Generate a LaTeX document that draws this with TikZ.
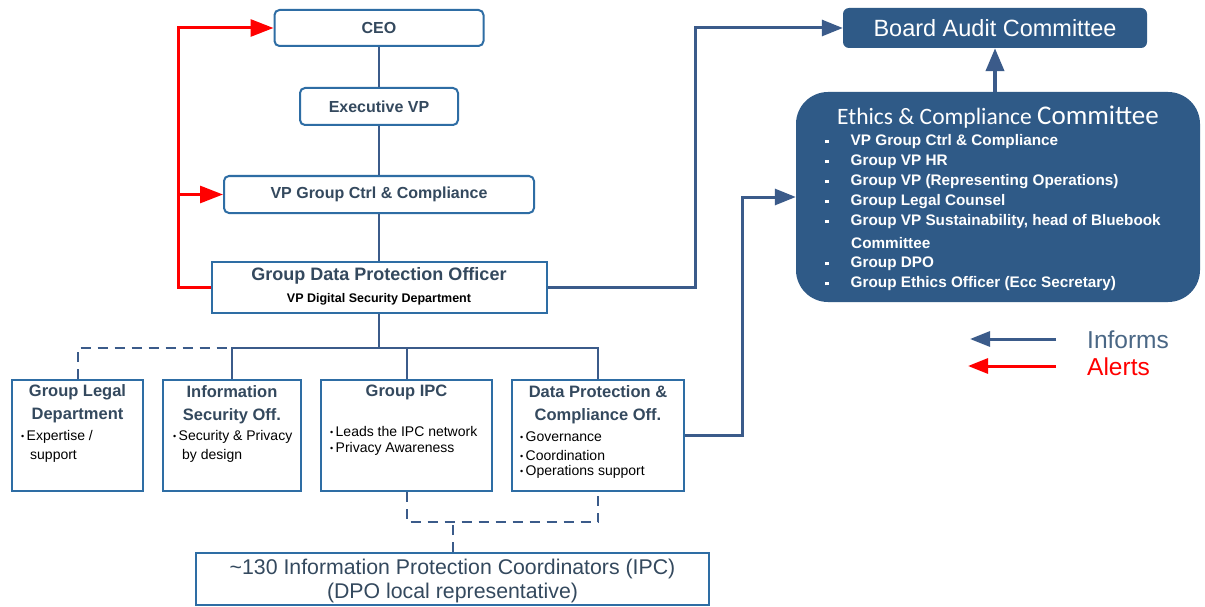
\documentclass[tikz,border=0pt]{standalone}
\usepackage{fontspec}
\setmainfont{Liberation Sans}
\newfontfamily\carl{Carlito}
\usetikzlibrary{arrows.meta}
\definecolor{boxline}{HTML}{2E6DA4}
\definecolor{conn}{HTML}{3B5B8A}
\definecolor{txt}{HTML}{34495E}
\definecolor{fillb}{HTML}{2F5A87}
\definecolor{alertred}{HTML}{FF0000}
\definecolor{legtxt}{HTML}{4A6785}
\newcommand{\sqb}{\raisebox{2.5pt}{\rule{3.5pt}{3.5pt}}}
\newcommand{\dotb}{{\fontsize{9}{9}\selectfont\raisebox{1pt}{\textbullet}}}
\tikzset{
  rbox/.style={draw=boxline, line width=2pt, rounded corners=5pt, fill=white,
    text=txt, font=\fontsize{16}{18}\selectfont\bfseries, inner sep=0pt},
  sbox/.style={draw=boxline, line width=2pt, fill=white, inner sep=0pt},
  dark/.style={fill=fillb, draw=none, text=white, inner sep=0pt},
  title/.style={text=txt, font=\fontsize{16.5}{18}\selectfont\bfseries, inner sep=0pt},
  item/.style={text=black, font=\fontsize{14}{16}\selectfont, inner sep=0pt, anchor=west},
  eitem/.style={text=white, font=\fontsize{15.3}{17}\selectfont\bfseries, inner sep=0pt, anchor=west},
  link/.style={draw=conn, line width=2pt},
  dlink/.style={draw=conn, line width=2pt, dash pattern=on 10pt off 7pt},
  inform/.style={draw=conn, line width=3pt, -{Triangle[length=21pt,width=16pt]}},
  alert/.style={draw=alertred, line width=3pt, -{Triangle[length=23pt,width=17pt]}}
}
\begin{document}
\begin{tikzpicture}[x=1pt,y=-1pt]
\useasboundingbox (0,0) rectangle (1205,607);
\fill[white] (0,0) rectangle (1205,607);

% management chain
\node[rbox, minimum width=209pt, minimum height=36pt] (ceo) at (379,28) {CEO};
\node[rbox, minimum width=158pt, minimum height=37pt] (evp) at (379,106.5) {Executive VP};
\node[rbox, minimum width=310pt, minimum height=37pt] (vpc) at (379,194.5) {VP Group Ctrl \& Compliance};
\node[sbox, minimum width=335pt, minimum height=51pt] (dpo) at (379,287.5) {};
\node[title, font=\fontsize{18}{20}\selectfont\bfseries] (dpot) at (379,276) {Group Data Protection Officer};
\node[inner sep=0pt, font=\fontsize{12.5}{14}\selectfont\bfseries] (dpos) at (379,299) {VP Digital Security Department};

\draw[link] (ceo) -- (evp);
\draw[link] (evp) -- (vpc);
\draw[link] (vpc) -- (dpo);

% departments
\node[sbox, minimum width=131pt, minimum height=111pt] (legal) at (77.5,435.5) {};
\node[sbox, minimum width=138pt, minimum height=111pt] (info) at (232,435.5) {};
\node[sbox, minimum width=171pt, minimum height=111pt] (gipc) at (406.5,435.5) {};
\node[sbox, minimum width=172pt, minimum height=111pt] (dpc) at (598,435.5) {};

\node[title] (legal1) at (77.5,392) {Group Legal};
\node[title] (legal2) at (77.5,416) {Department};
\node[item] (legal3) at (21,437) {\dotb\,Expertise /};
\node[item] (legal4) at (30,456) {support};

\node[title] (info1) at (232,392) {Information};
\node[title] (info2) at (232,416) {Security Off.};
\node[item] (info3) at (173,437) {\dotb\,Security \& Privacy};
\node[item] (info4) at (182,456) {by design};

\node[title] (gipc1) at (406.5,392) {Group IPC};
\node[item] (gipc2) at (330,431) {\dotb\,Leads the IPC network};
\node[item] (gipc3) at (330,449) {\dotb\,Privacy Awareness};

\node[title] (dpc1) at (598,392) {Data Protection \&};
\node[title] (dpc2) at (598,416) {Compliance Off.};
\node[item] (dpc3) at (520,437) {\dotb\,Governance};
\node[item] (dpc4) at (520,455) {\dotb\,Coordination};
\node[item] (dpc5) at (520,472) {\dotb\,Operations support};

% reporting bus below the DPO
\draw[link] (dpo.south) -- ++(0,34) coordinate (bus);
\draw[link] (info.north) -- (info.north |- bus) -- (dpc.north |- bus) -- (dpc.north);
\draw[link] (gipc.north) -- (gipc.north |- bus);
\draw[dlink] (legal.north) -- (legal.north |- bus) -- (info.north |- bus);

% local coordinators
\node[sbox, minimum width=513pt, minimum height=52pt] (coord) at (452.5,579) {};
\node[inner sep=0pt, text=txt, font=\fontsize{21.3}{23}\selectfont] (coord1) at (452.5,569) {\textasciitilde130 Information Protection Coordinators (IPC)};
\node[inner sep=0pt, text=txt, font=\fontsize{21.3}{23}\selectfont] (coord2) at (452.5,593) {(DPO local representative)};

\draw[dlink] (gipc.south) -- ++(0,30) coordinate (lowbus) -| (dpc.south);
\draw[dlink] (coord.north) -- (coord.north |- lowbus);

% committees
\node[dark, rounded corners=6pt, minimum width=304pt, minimum height=40pt,
      font=\fontsize{23.5}{25}\selectfont] (board) at (995,28) {Board Audit Committee};
\node[dark, rounded corners=32pt, minimum width=404pt, minimum height=210pt] (ecc) at (998,197) {};
\node[inner sep=0pt, text=white] (ecct) at (998,117)
  {\carl\fontsize{23.5}{26}\selectfont Ethics \& Compliance {\fontsize{27}{29}\selectfont Committee}};
\node[eitem] (e1) at (825,142) {\sqb\hspace{22pt}VP Group Ctrl \& Compliance};
\node[eitem] (e2) at (825,162) {\sqb\hspace{22pt}Group VP HR};
\node[eitem] (e3) at (825,182) {\sqb\hspace{22pt}Group VP (Representing Operations)};
\node[eitem] (e4) at (825,202) {\sqb\hspace{22pt}Group Legal Counsel};
\node[eitem] (e5) at (825,222) {\sqb\hspace{22pt}Group VP Sustainability, head of Bluebook};
\node[eitem] (e6) at (851,243) {Committee};
\node[eitem] (e7) at (825,264) {\sqb\hspace{22pt}Group DPO};
\node[eitem] (e8) at (825,284) {\sqb\hspace{22pt}Group Ethics Officer (Ecc Secretary)};

% informs / alerts
\draw[inform] (dpo.east) -- ++(148,0) |- (board.west);
\draw[inform] (dpc.east) -- ++(57,0) |- (ecc.west);
\draw[inform, line width=4pt, -{Triangle[length=23pt,width=18pt]}] (board.south |- ecc.north) -- (board.south);

\draw[alert] (dpo.west) -- ++(-32,0) coordinate (rl) |- (ceo.west);
\draw[alert] (rl |- vpc.west) -- (vpc.west);

% legend
\coordinate (li) at (1056,339);
\coordinate (la) at (1056,366);
\draw[inform, -{Triangle[length=20pt,width=15pt]}] (li) -- ++(-86,0);
\draw[alert, -{Triangle[length=20pt,width=15pt]}] (la) -- ++(-88,0);
\node[inner sep=0pt, anchor=west, text=legtxt, font=\fontsize{24.5}{26}\selectfont] (linf) at (1087,340) {Informs};
\node[inner sep=0pt, anchor=west, text=alertred, font=\fontsize{24.5}{26}\selectfont] (lal) at (1087,367) {Alerts};
\end{tikzpicture}
\end{document}
